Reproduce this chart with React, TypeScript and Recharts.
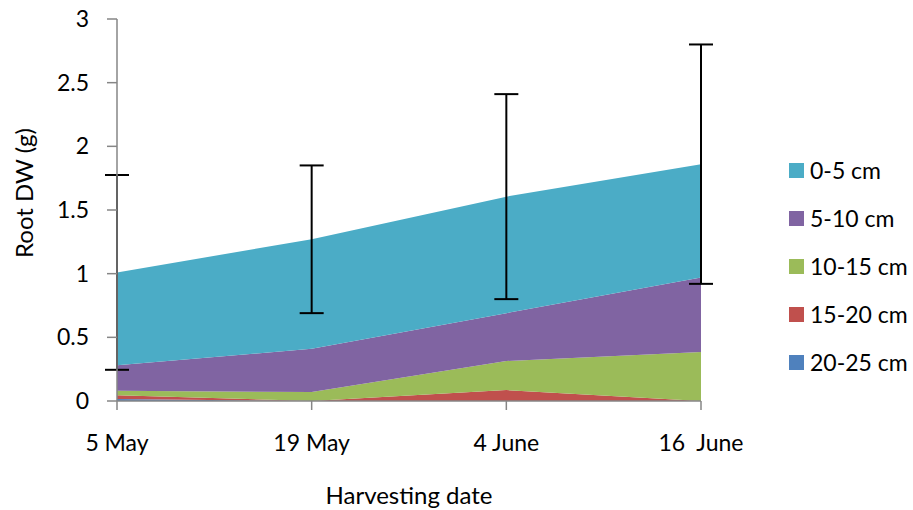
import { ComposedChart, Area, Line, ErrorBar, XAxis, YAxis } from 'recharts'

const dates = ['5 May', '19 May', '4 June', '16  June']
const depth20to25 = [0.015, 0, 0, 0]
const depth15to20 = [0.03, 0, 0.086, 0]
const depth10to15 = [0.035, 0.07, 0.228, 0.385]
const depth5to10 = [0.2, 0.34, 0.376, 0.585]
const depth0to5 = [0.73, 0.86, 0.915, 0.89]
const totalError = [0.765, 0.58, 0.805, 0.94]
const yTicks = [0, 0.5, 1, 1.5, 2, 2.5, 3]

const series = [
  { key: 'd20', name: '20-25 cm', values: depth20to25, color: '#4F81BD' },
  { key: 'd15', name: '15-20 cm', values: depth15to20, color: '#C0504D' },
  { key: 'd10', name: '10-15 cm', values: depth10to15, color: '#9BBB59' },
  { key: 'd5', name: '5-10 cm', values: depth5to10, color: '#8064A2' },
  { key: 'd0', name: '0-5 cm', values: depth0to5, color: '#4BACC6' }
]

const data = dates.map((date, i) => {
  const row: Record<string, number | string> = { date, err: totalError[i] }
  let total = 0
  series.forEach((s) => {
    row[s.key] = s.values[i]
    total += s.values[i]
  })
  row.total = total
  return row
})

const font = 'Lato, sans-serif'
const axisGray = '#868686'

// legend sits outside the svg so it doesn't eat plot space
function DepthLegend() {
  return (
    <div
      style={{
        position: 'absolute',
        left: 789,
        top: 146,
        fontFamily: font,
        fontSize: 23,
        color: '#000',
        whiteSpace: 'nowrap'
      }}
    >
      {[...series].reverse().map((s) => (
        <div key={s.key} style={{ display: 'flex', alignItems: 'center', height: 48 }}>
          <span style={{ width: 15, height: 15, background: s.color, marginRight: 6 }} />
          <span>{s.name}</span>
        </div>
      ))}
    </div>
  )
}

export default function App() {
  return (
    <div style={{ position: 'absolute', left: 0, top: 0, width: 913, height: 510, background: '#fff' }}>
      <ComposedChart
        width={913}
        height={510}
        data={data}
        margin={{ top: 19, right: 212, left: 17, bottom: 49 }}
      >
        <XAxis
          dataKey="date"
          height={60}
          stroke={axisGray}
          strokeWidth={1.5}
          tickSize={9}
          tickMargin={25}
          tickFormatter={(v: string) => v.replace(/ {2}/g, '\u00a0 ')}
          tick={{ fill: '#000', fontSize: 23, fontFamily: font }}
          label={() => (
            <text x={409} y={504} textAnchor="middle" fontSize={24} fontFamily={font} fill="#000">
              Harvesting date
            </text>
          )}
        />
        <YAxis
          width={100}
          domain={[0, 3]}
          ticks={yTicks}
          stroke={axisGray}
          strokeWidth={1.5}
          tickSize={10}
          tickMargin={18}
          tick={{ fill: '#000', fontSize: 23, fontFamily: font }}
          label={() => (
            <text
              x={33}
              y={193}
              transform="rotate(-90 33 193)"
              textAnchor="middle"
              fontSize={24}
              fontFamily={font}
              fill="#000"
            >
              Root DW (g)
            </text>
          )}
        />
        {series.map((s) => (
          <Area
            key={s.key}
            type="linear"
            dataKey={s.key}
            name={s.name}
            stackId="1"
            stroke="none"
            fill={s.color}
            fillOpacity={1}
            isAnimationActive={false}
          />
        ))}
        <Line
          type="linear"
          dataKey="total"
          stroke="none"
          dot={false}
          activeDot={false}
          legendType="none"
          isAnimationActive={false}
        >
          <ErrorBar dataKey="err" width={12} strokeWidth={2} stroke="#000" direction="y" />
        </Line>
      </ComposedChart>
      <DepthLegend />
    </div>
  )
}
